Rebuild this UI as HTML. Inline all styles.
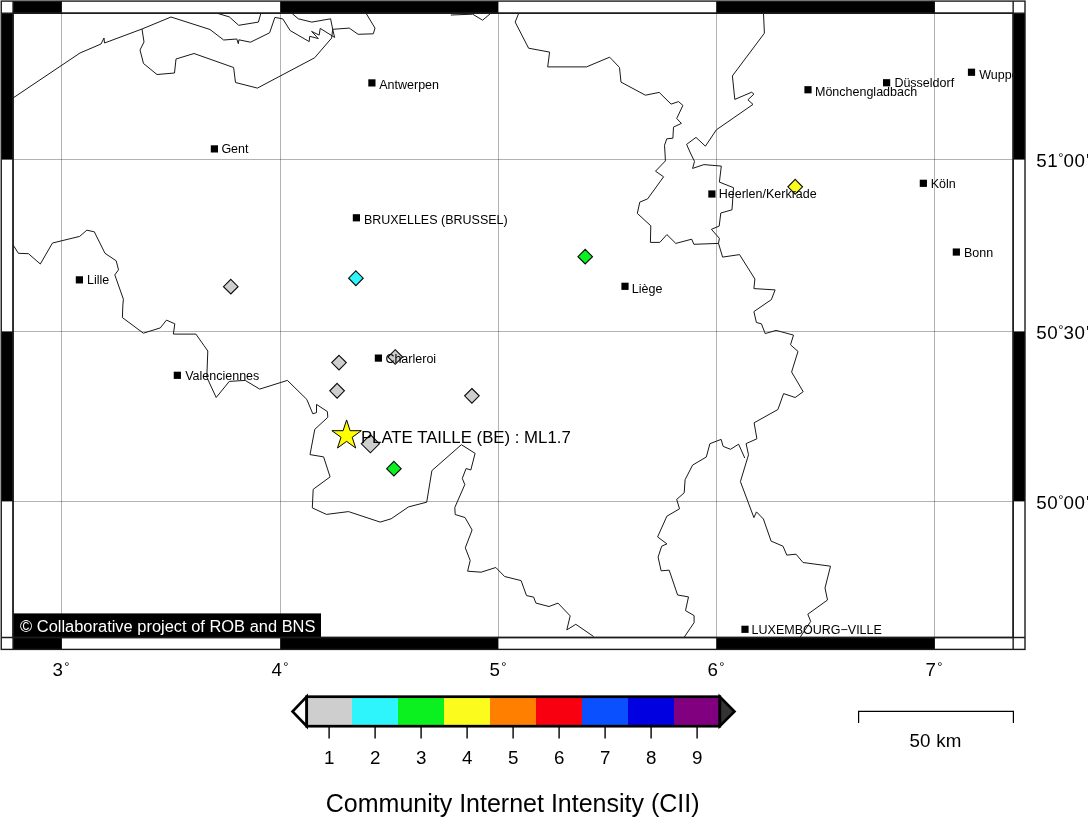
<!DOCTYPE html><html><head><meta charset="utf-8"><title>Community Internet Intensity map</title>
<style>html,body{margin:0;padding:0;background:#fff}svg{display:block}text{font-family:"Liberation Sans",sans-serif;fill:#000}.c{font-size:12.5px}.a{font-size:18.75px}.p{font-size:16.8px}.t{font-size:25px}.d{font-size:13px}</style></head><body>
<svg width="1088" height="818" viewBox="0 0 1088 818">
<rect width="1088" height="818" fill="#fff"/>
<defs><clipPath id="m"><rect x="13.05" y="13.20" width="1000.10" height="624.30"/></clipPath></defs>
<g clip-path="url(#m)">
<g stroke="#000" stroke-opacity="0.3" stroke-width="1" fill="none" shape-rendering="crispEdges">
<line x1="61.5" y1="13.2" x2="61.5" y2="637.5"/>
<line x1="280.5" y1="13.2" x2="280.5" y2="637.5"/>
<line x1="498.5" y1="13.2" x2="498.5" y2="637.5"/>
<line x1="716.5" y1="13.2" x2="716.5" y2="637.5"/>
<line x1="934.5" y1="13.2" x2="934.5" y2="637.5"/>
<line x1="13.1" y1="159.5" x2="1013.1" y2="159.5"/>
<line x1="13.1" y1="331.5" x2="1013.1" y2="331.5"/>
<line x1="13.1" y1="501.5" x2="1013.1" y2="501.5"/>
</g>
<g stroke="#181818" stroke-width="1" fill="none" stroke-linejoin="round">
<polyline points="13.0,98.0 80.0,53.0 101.0,44.0 104.0,38.0 104.5,43.0 142.0,29.0 171.0,17.0 210.0,29.5 223.7,40.0 236.8,39.0 238.3,43.7 238.9,39.8 250.5,42.2 269.6,32.8 274.9,17.4 282.8,18.9 290.2,30.6 309.2,41.6 309.7,36.3 318.3,38.6 311.6,31.4 319.2,35.1 320.2,28.4 334.6,37.4 332.7,29.3 330.6,18.8 311.8,22.1 298.3,18.8 292.1,13.5"/>
<polyline points="142.0,29.0 144.0,42.0 140.0,50.0 143.5,63.5 157.0,74.5 174.5,73.0 176.0,59.0 194.0,53.5 233.6,67.5 235.5,82.5 257.4,88.1 314.6,57.8 331.6,38.1 332.7,29.3"/>
<polyline points="332.7,29.3 349.3,28.1 358.1,34.3 373.3,33.8 375.0,28.1 366.2,13.5"/>
<polyline points="218.0,13.5 229.3,16.9 238.7,25.3 258.4,22.1 260.8,13.5"/>
<polyline points="450.8,15.0 472.7,14.2 482.6,20.2 490.5,13.5"/>
<polyline points="518.6,13.5 515.2,22.1 528.6,48.2 549.6,52.1 547.7,66.9 586.5,66.9 609.6,57.2 612.0,59.6 619.5,67.5 621.0,82.1 645.4,95.2 659.2,92.4 671.1,104.1 678.6,101.6 682.9,105.4 676.7,118.5 681.4,123.4 673.5,127.1 672.9,138.2 666.8,138.8 664.5,145.3 665.0,153.0 665.4,160.9 655.5,171.2 663.6,176.8 647.6,198.9 639.8,202.1 637.3,213.4 650.8,225.8 650.4,242.4 659.8,242.4 666.9,234.6 675.8,243.4 691.7,239.2 693.9,244.3 718.5,243.4"/>
<polyline points="763.5,13.5 764.4,33.2 732.4,75.9 734.8,99.4 751.7,92.2 753.9,94.1 747.9,99.8 753.0,104.4 716.4,129.8 705.4,146.2 696.0,137.4 686.6,144.4 690.4,153.0 694.5,161.4 692.6,168.4 703.9,164.6 721.3,166.1 719.4,182.1 733.5,187.7 732.0,209.8 720.8,213.0 719.2,226.1 711.4,229.3 719.4,238.3 718.5,243.4 722.6,257.1 739.5,254.6 754.9,279.0 753.9,288.6 775.1,289.9 771.4,299.6 762.0,306.0 753.9,311.6 756.4,322.5 761.4,323.8 765.2,333.6 776.1,330.4 793.5,335.1 790.5,344.8 798.0,351.4 791.6,372.0 803.2,391.7 795.2,397.5 783.6,393.6 777.9,409.5 754.1,422.8 756.9,438.8 746.1,443.6 748.5,454.8 740.4,481.6 753.9,517.6 756.5,511.9 763.4,519.0 771.1,541.1 783.0,546.2 786.8,555.1 796.0,554.2 803.0,562.5 830.5,566.2 825.0,588.0 827.5,600.0 807.8,614.2 810.7,621.4 800.3,637.0"/>
<polyline points="744.8,458.1 738.6,444.2 730.5,449.3 723.2,446.4 721.1,439.4 709.9,443.7 706.3,457.0 692.6,465.1 685.1,479.7 684.2,492.8 676.7,499.4 679.5,508.8 666.9,516.2 657.6,536.9 666.9,543.9 661.7,546.2 658.1,557.1 661.1,570.8 669.2,570.2 677.6,595.0 688.5,596.9 685.5,610.6 694.1,615.6 694.1,622.6 684.2,637.2"/>
<polyline points="13.1,244.9 18.4,253.3 28.5,253.7 40.3,264.0 52.5,243.0 79.7,236.4 86.8,230.2 94.3,231.8 105.0,253.3 116.2,260.8 118.5,269.8 114.8,274.9 123.4,299.2 122.8,306.0 122.4,317.6 143.4,333.2 160.3,327.9 166.5,320.1 174.8,323.8 173.4,334.1 195.9,334.1 204.0,345.6 207.8,351.0 206.8,377.2 216.2,397.5 229.3,381.4 245.2,380.4 259.7,389.1 287.4,380.4 306.8,399.4 312.8,413.8 316.5,412.6 316.5,404.4 327.4,411.6 327.8,417.3 314.8,429.3 310.0,454.6 323.6,456.9 330.1,476.9 313.2,489.3 312.3,507.9 326.4,514.4 348.5,511.6 380.2,522.1 391.1,518.8 408.5,506.9 426.7,502.2 431.9,470.6 461.4,444.7 475.1,453.4 470.8,470.0 466.1,468.5 462.3,478.4 464.8,484.6 454.8,507.5 455.2,514.5 465.0,517.5 472.1,530.0 465.3,547.8 470.2,560.5 467.6,571.2 481.1,572.2 495.8,567.5 504.6,576.5 521.1,580.6 526.5,595.6 533.6,597.1 535.9,603.1 549.0,606.5 558.0,603.1 570.2,615.9 566.8,629.9 575.8,624.3 593.6,636.5"/>
</g>
<g stroke="#0a0a0a" stroke-width="1.1">
<polygon points="395.2,349.7 402.6,357.0 395.2,364.3 387.9,357.0" fill="#cecece"/>
<polygon points="230.8,279.4 238.1,286.7 230.8,294.0 223.5,286.7" fill="#cecece"/>
<polygon points="339.0,355.3 346.3,362.6 339.0,369.9 331.7,362.6" fill="#cecece"/>
<polygon points="337.1,383.4 344.4,390.8 337.1,398.1 329.8,390.8" fill="#cecece"/>
<polygon points="471.9,388.5 479.2,395.8 471.9,403.1 464.6,395.8" fill="#cecece"/>
<polygon points="370.4,434.7 379.4,443.8 370.4,452.8 361.3,443.8" fill="#cecece"/>
<polygon points="355.9,270.9 363.2,278.2 355.9,285.6 348.6,278.2" fill="#2ef5fb"/>
<polygon points="585.2,249.4 592.5,256.7 585.2,264.0 577.9,256.7" fill="#0bf01f"/>
<polygon points="393.9,461.4 401.2,468.7 393.9,476.0 386.6,468.7" fill="#0bf01f"/>
<polygon points="795.2,179.4 802.5,186.8 795.2,194.1 787.9,186.8" fill="#fbfb1e"/>
</g>
<rect x="368.30" y="79.30" width="7.2" height="7.2"/>
<text class="c" x="379.25" y="88.75">Antwerpen</text>
<rect x="210.80" y="145.30" width="7.2" height="7.2"/>
<text class="c" x="221.40" y="152.90">Gent</text>
<rect x="352.80" y="214.20" width="7.2" height="7.2"/>
<text class="c" x="363.90" y="223.80">BRUXELLES (BRUSSEL)</text>
<rect x="75.80" y="276.25" width="7.2" height="7.2"/>
<text class="c" x="87.00" y="283.70">Lille</text>
<rect x="173.75" y="371.70" width="7.2" height="7.2"/>
<text class="c" x="185.20" y="379.80">Valenciennes</text>
<rect x="374.80" y="354.50" width="7.2" height="7.2"/>
<text class="c" x="385.40" y="363.00">Charleroi</text>
<rect x="621.40" y="282.70" width="7.2" height="7.2"/>
<text class="c" x="631.80" y="292.80">Liège</text>
<rect x="708.30" y="190.40" width="7.2" height="7.2"/>
<text class="c" x="718.75" y="197.75">Heerlen/Kerkrade</text>
<rect x="804.40" y="86.15" width="7.2" height="7.2"/>
<text class="c" x="815.00" y="96.00">Mönchengladbach</text>
<rect x="883.00" y="79.15" width="7.2" height="7.2"/>
<text class="c" x="894.40" y="87.40">Düsseldorf</text>
<rect x="967.90" y="68.65" width="7.2" height="7.2"/>
<text class="c" x="979.20" y="78.50">Wuppertal</text>
<rect x="919.75" y="179.70" width="7.2" height="7.2"/>
<text class="c" x="930.70" y="187.60">Köln</text>
<rect x="952.75" y="248.45" width="7.2" height="7.2"/>
<text class="c" x="963.90" y="256.75">Bonn</text>
<rect x="741.40" y="625.70" width="7.2" height="7.2"/>
<text class="c" x="751.60" y="633.50">LUXEMBOURG−VILLE</text>
<polygon points="346.6,419.9 350.1,430.7 361.3,430.7 352.2,437.3 355.7,448.0 346.6,441.4 337.5,448.0 341.0,437.3 331.9,430.7 343.1,430.7" fill="#ffff00" stroke="#000" stroke-width="1"/>
<text class="p" x="360.9" y="443.3">PLATE TAILLE (BE) : ML1.7</text>
<rect x="13" y="613.4" width="308" height="25" fill="#000"/>
<text x="20.1" y="631.6" style="font-size:16.45px;fill:#fff">© Collaborative project of ROB and BNS</text>
</g>
<g fill="#000" stroke="none">
<rect x="13.05" y="1.10" width="48.85" height="12.10"/>
<rect x="13.05" y="637.50" width="48.85" height="11.90"/>
<rect x="280.15" y="1.10" width="218.25" height="12.10"/>
<rect x="280.15" y="637.50" width="218.25" height="11.90"/>
<rect x="716.20" y="1.10" width="218.70" height="12.10"/>
<rect x="716.20" y="637.50" width="218.70" height="11.90"/>
<rect x="1.25" y="13.20" width="11.80" height="146.40"/>
<rect x="1013.15" y="13.20" width="11.85" height="146.40"/>
<rect x="1.25" y="331.40" width="11.80" height="170.00"/>
<rect x="1013.15" y="331.40" width="11.85" height="170.00"/>
</g>
<g fill="none" stroke="#1c1c1c" stroke-width="1.4">
<rect x="1.25" y="1.10" width="1023.75" height="648.30"/>
<rect x="13.05" y="13.20" width="1000.10" height="624.30"/>
<line x1="13.05" y1="1.10" x2="13.05" y2="649.40"/>
<line x1="1013.15" y1="1.10" x2="1013.15" y2="649.40"/>
<line x1="1.25" y1="13.20" x2="1025.00" y2="13.20"/>
<line x1="1.25" y1="637.50" x2="1025.00" y2="637.50"/>
</g>
<text class="a" x="52.5" y="675.9">3<tspan class="d" dx="1.3" dy="-4.9">°</tspan></text>
<text class="a" x="271.5" y="675.9">4<tspan class="d" dx="1.3" dy="-4.9">°</tspan></text>
<text class="a" x="489.5" y="675.9">5<tspan class="d" dx="1.3" dy="-4.9">°</tspan></text>
<text class="a" x="707.5" y="675.9">6<tspan class="d" dx="1.3" dy="-4.9">°</tspan></text>
<text class="a" x="925.5" y="675.9">7<tspan class="d" dx="1.3" dy="-4.9">°</tspan></text>
<text class="a" x="1036.3" y="166.8" letter-spacing="0.5">51<tspan class="d" dx="0.2" dy="-4.9">°</tspan><tspan dx="-0.5" dy="4.9">00</tspan><tspan dx="0.7">'</tspan></text>
<text class="a" x="1036.3" y="338.8" letter-spacing="0.5">50<tspan class="d" dx="0.2" dy="-4.9">°</tspan><tspan dx="-0.5" dy="4.9">30</tspan><tspan dx="0.7">'</tspan></text>
<text class="a" x="1036.3" y="508.8" letter-spacing="0.5">50<tspan class="d" dx="0.2" dy="-4.9">°</tspan><tspan dx="-0.5" dy="4.9">00</tspan><tspan dx="0.7">'</tspan></text>
<rect x="306.00" y="696.7" width="46.30" height="29.5" fill="#cecece"/>
<rect x="352.00" y="696.7" width="46.30" height="29.5" fill="#2ef5fb"/>
<rect x="398.00" y="696.7" width="46.30" height="29.5" fill="#0bf01f"/>
<rect x="444.00" y="696.7" width="46.30" height="29.5" fill="#fbfb1e"/>
<rect x="490.00" y="696.7" width="46.30" height="29.5" fill="#ff8000"/>
<rect x="536.00" y="696.7" width="46.30" height="29.5" fill="#f8000f"/>
<rect x="582.00" y="696.7" width="46.30" height="29.5" fill="#0a50ff"/>
<rect x="628.00" y="696.7" width="46.30" height="29.5" fill="#0000e0"/>
<rect x="674.00" y="696.7" width="46.00" height="29.5" fill="#800080"/>
<polygon points="306.7,696.7 292.5,711.5 306.7,726.2" fill="#fff" stroke="#000" stroke-width="2.6" stroke-linejoin="miter" stroke-miterlimit="10"/>
<polygon points="719.8,696.7 734.5,711.5 719.8,726.2" fill="#333" stroke="#000" stroke-width="2.6" stroke-linejoin="miter" stroke-miterlimit="10"/>
<rect x="306.7" y="696.7" width="413.1" height="29.5" fill="none" stroke="#000" stroke-width="2.7"/>
<line x1="329.1" y1="727" x2="329.1" y2="738.4" stroke="#000" stroke-width="1.4"/>
<text class="a" x="329.3" y="763.9" text-anchor="middle">1</text>
<line x1="375.1" y1="727" x2="375.1" y2="738.4" stroke="#000" stroke-width="1.4"/>
<text class="a" x="375.3" y="763.9" text-anchor="middle">2</text>
<line x1="421.1" y1="727" x2="421.1" y2="738.4" stroke="#000" stroke-width="1.4"/>
<text class="a" x="421.3" y="763.9" text-anchor="middle">3</text>
<line x1="467.1" y1="727" x2="467.1" y2="738.4" stroke="#000" stroke-width="1.4"/>
<text class="a" x="467.3" y="763.9" text-anchor="middle">4</text>
<line x1="513.1" y1="727" x2="513.1" y2="738.4" stroke="#000" stroke-width="1.4"/>
<text class="a" x="513.3" y="763.9" text-anchor="middle">5</text>
<line x1="559.1" y1="727" x2="559.1" y2="738.4" stroke="#000" stroke-width="1.4"/>
<text class="a" x="559.3" y="763.9" text-anchor="middle">6</text>
<line x1="605.1" y1="727" x2="605.1" y2="738.4" stroke="#000" stroke-width="1.4"/>
<text class="a" x="605.3" y="763.9" text-anchor="middle">7</text>
<line x1="651.1" y1="727" x2="651.1" y2="738.4" stroke="#000" stroke-width="1.4"/>
<text class="a" x="651.3" y="763.9" text-anchor="middle">8</text>
<line x1="697.1" y1="727" x2="697.1" y2="738.4" stroke="#000" stroke-width="1.4"/>
<text class="a" x="697.3" y="763.9" text-anchor="middle">9</text>
<text class="t" x="325.8" y="812">Community Internet Intensity (CII)</text>
<polyline points="858.6,723 858.6,711.4 1013.4,711.4 1013.4,723" fill="none" stroke="#000" stroke-width="1.2"/>
<text class="a" x="909.6" y="746.9" word-spacing="0.6">50 km</text>
</svg></body></html>
